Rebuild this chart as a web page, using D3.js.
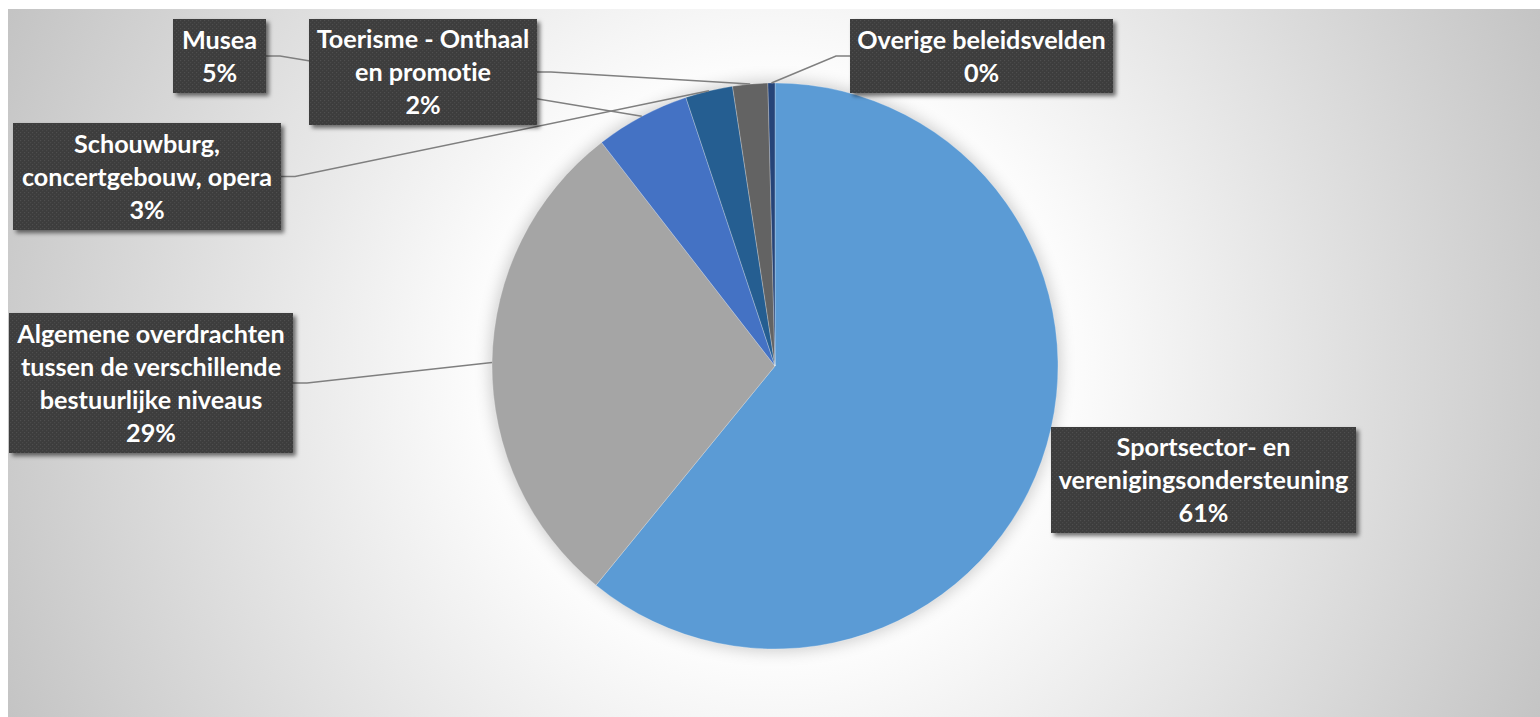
<!DOCTYPE html>
<html>
<head>
<meta charset="utf-8">
<script src="https://cdn.jsdelivr.net/npm/d3@7"></script>
<style>
  html, body { margin: 0; padding: 0; background: #ffffff; }
  svg { display: block; }
  text { font-variant-ligatures: none; font-feature-settings: "liga" 0, "clig" 0; }
</style>
</head>
<body>
<svg id="chart" width="1540" height="717"></svg>
<script>
// Spending shares per policy field (percent of total)
const categories = [
  "Sportsector- en verenigingsondersteuning",
  "Algemene overdrachten tussen de verschillende bestuurlijke niveaus",
  "Musea",
  "Schouwburg, concertgebouw, opera",
  "Toerisme - Onthaal en promotie",
  "Overige beleidsvelden"
];
const shares = [60.9, 28.6, 5.4, 2.7, 2.0, 0.4];
const sliceColors = ["#5B9BD5", "#A5A5A5", "#4472C4", "#255E91", "#636363", "#264478"];
const labelLines = [
  ["Sportsector- en", "verenigingsondersteuning"],
  ["Algemene overdrachten", "tussen de verschillende", "bestuurlijke niveaus"],
  ["Musea"],
  ["Schouwburg,", "concertgebouw, opera"],
  ["Toerisme - Onthaal", "en promotie"],
  ["Overige beleidsvelden"]
];

// Data-label box placement: [x, y, width, height, leader side]
const labelBoxes = [
  [1051, 427, 305, 106, "none"],
  [9, 313, 284, 140, "right"],
  [173, 19, 93, 74, "right"],
  [13, 123, 268, 107, "right"],
  [309, 19, 228, 106, "right"],
  [850, 19, 263, 74, "left"]
];

const W = 1540, H = 717;
const cx = 775, cy = 366, R = 283;
const svg = d3.select("#chart");
const defs = svg.append("defs");

// Chart-area background: radial fade from white to grey
const bg = defs.append("radialGradient")
  .attr("id", "bgGrad").attr("gradientUnits", "userSpaceOnUse")
  .attr("cx", cx).attr("cy", cy).attr("r", 842);
bg.append("stop").attr("offset", 0).attr("stop-color", "#ffffff");
bg.append("stop").attr("offset", 0.32).attr("stop-color", "#ffffff");
bg.append("stop").attr("offset", 1).attr("stop-color", "#c4c4c4");

// Soft halo behind the pie
const halo = defs.append("filter").attr("id", "halo")
  .attr("x", "-20%").attr("y", "-20%").attr("width", "140%").attr("height", "140%");
halo.append("feGaussianBlur").attr("stdDeviation", 8);

// Drop shadow for label boxes
const boxShadow = defs.append("filter").attr("id", "boxShadow")
  .attr("x", "-10%").attr("y", "-20%").attr("width", "130%").attr("height", "150%");
boxShadow.append("feDropShadow").attr("dx", 3).attr("dy", 3)
  .attr("stdDeviation", 2.2).attr("flood-color", "#000").attr("flood-opacity", 0.55);

// Dotted dark fill for label boxes
const pat = defs.append("pattern").attr("id", "dots")
  .attr("patternUnits", "userSpaceOnUse").attr("width", 4).attr("height", 4);
pat.append("rect").attr("width", 4).attr("height", 4).attr("fill", "#3c3c3c");
pat.append("rect").attr("x", 0).attr("y", 0).attr("width", 1.2).attr("height", 1.2).attr("fill", "#505050");
pat.append("rect").attr("x", 2).attr("y", 2).attr("width", 1.2).attr("height", 1.2).attr("fill", "#4a4a4a");

svg.append("rect").attr("x", 8).attr("y", 9).attr("width", W - 8).attr("height", H - 9)
  .attr("fill", "url(#bgGrad)");

const pie = d3.pie().sort(null).value(d => d)(shares);
const arc = d3.arc().innerRadius(0).outerRadius(R);
const edgeArc = d3.arc().innerRadius(R).outerRadius(R);
const total = d3.sum(shares);
const pct = d3.format(".0%");

const g = svg.append("g").attr("transform", `translate(${cx},${cy})`);
g.append("circle").attr("r", R + 2).attr("fill", "#000").attr("opacity", 0.2)
  .attr("filter", "url(#halo)");
g.selectAll("path.slice").data(pie).join("path")
  .attr("class", "slice")
  .attr("d", arc)
  .attr("fill", (d, i) => sliceColors[i])
  .attr("stroke", "rgba(255,255,255,0.35)")
  .attr("stroke-width", 0.75);

// Leader lines from label boxes to the slice rims
const leaders = svg.append("g");
pie.forEach((d, i) => {
  const [x, y, w, h, side] = labelBoxes[i];
  if (side === "none") return;
  const [px, py] = edgeArc.centroid(d);
  const ax = side === "right" ? x + w : x;
  const ay = y + h / 2;
  const ex = side === "right" ? ax + 14 : ax - 14;
  leaders.append("path")
    .attr("d", d3.line()([[ax, ay], [ex, ay], [px + cx, py + cy]]))
    .attr("fill", "none").attr("stroke", "#7f7f7f").attr("stroke-width", 1.5);
});

// Data labels
const lineH = 33;
const labels = svg.append("g");
pie.forEach((d, i) => {
  const [x, y, w, h] = labelBoxes[i];
  const lines = labelLines[i].concat([pct(d.value / total)]);
  const lg = labels.append("g");
  lg.append("rect").attr("x", x).attr("y", y).attr("width", w).attr("height", h)
    .attr("fill", "url(#dots)").attr("filter", "url(#boxShadow)");
  const midY = y + h / 2;
  lines.forEach((t, k) => {
    lg.append("text")
      .attr("x", x + w / 2)
      .attr("y", midY + (k - (lines.length - 1) / 2) * lineH)
      .attr("dy", "0.36em")
      .attr("text-anchor", "middle")
      .attr("font-family", "Lato, 'Open Sans', sans-serif")
      .attr("font-weight", 700)
      .attr("font-size", 25.2)
      .attr("fill", "#ffffff")
      .text(t);
  });
});
</script>
</body>
</html>
